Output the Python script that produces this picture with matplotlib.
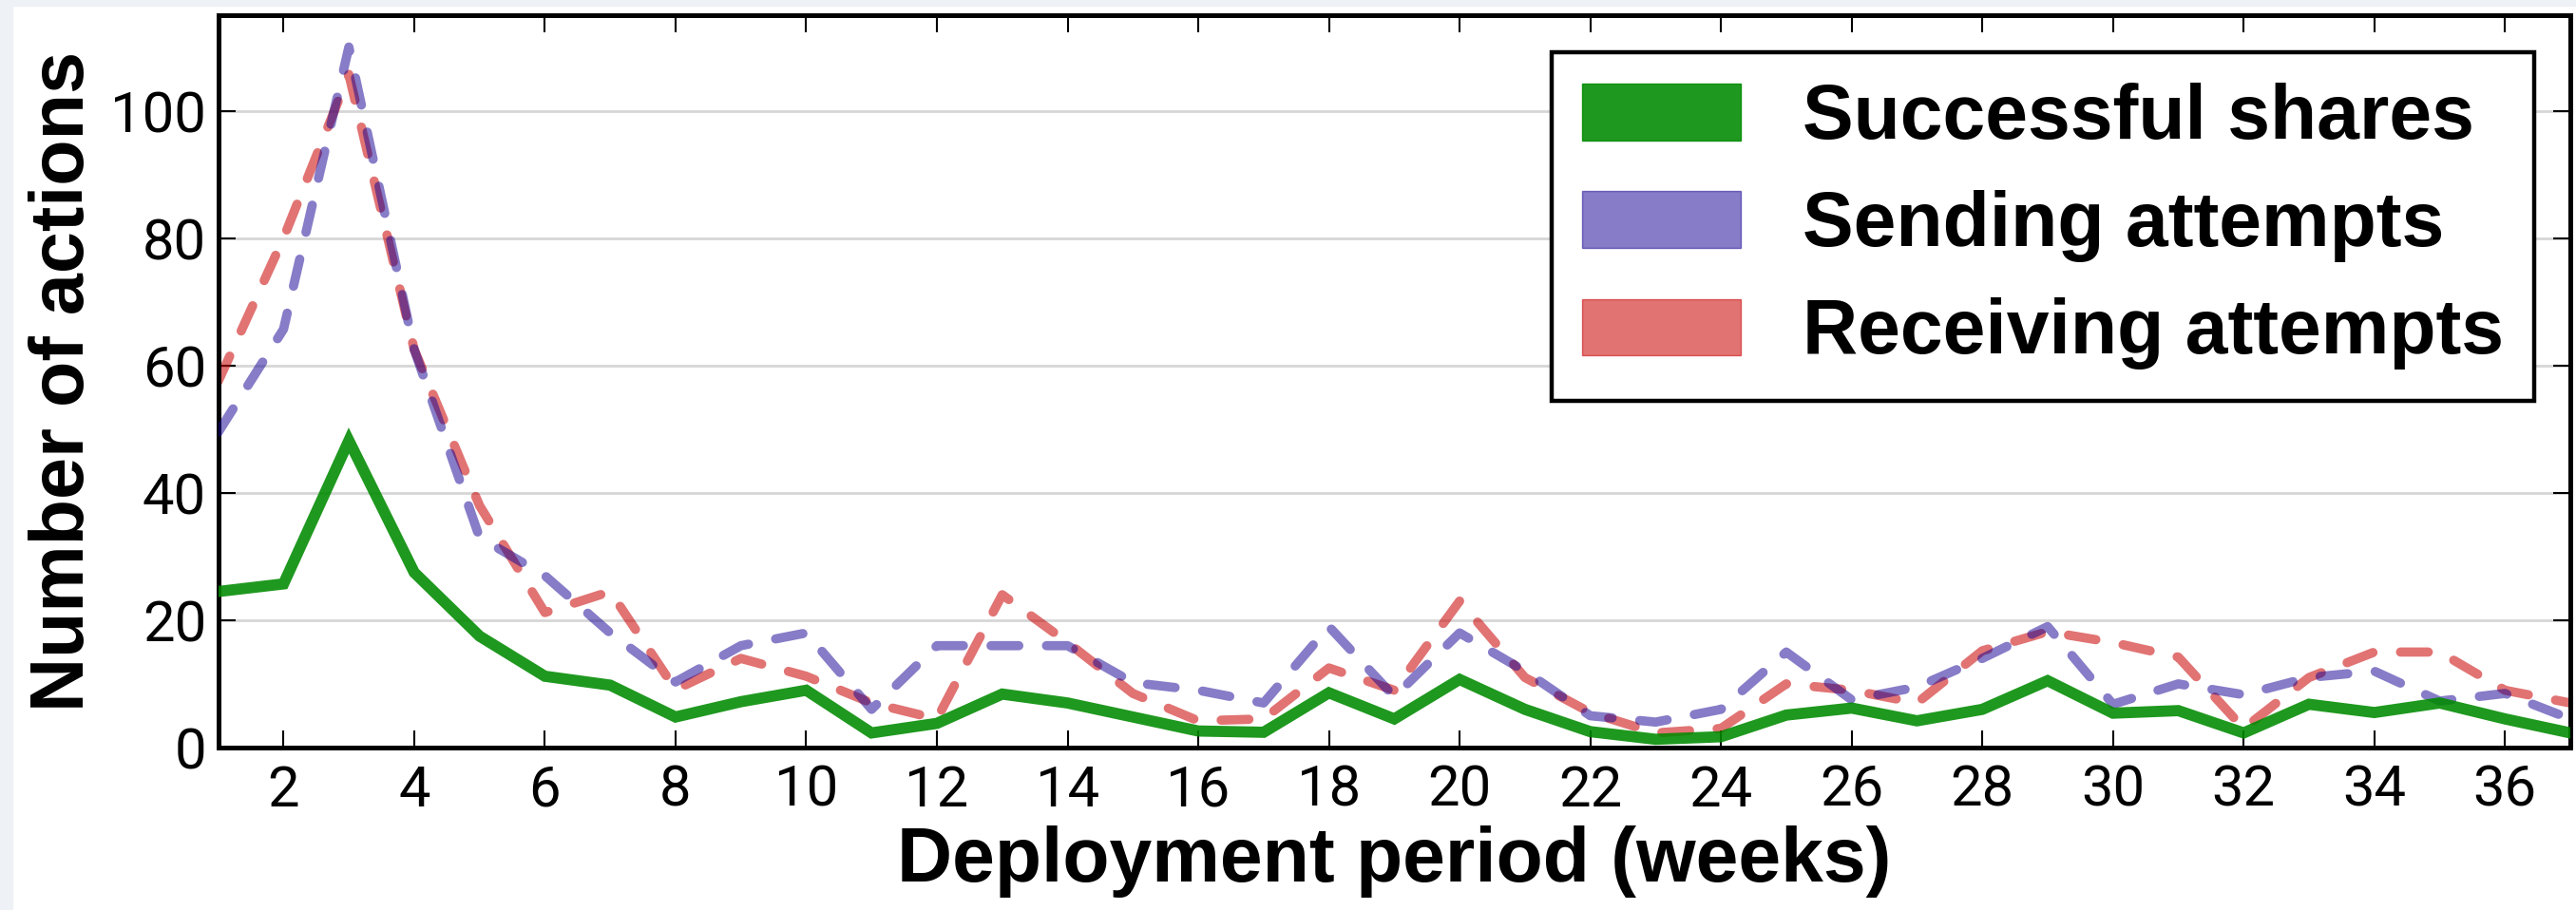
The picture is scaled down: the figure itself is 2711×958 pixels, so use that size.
import matplotlib
matplotlib.use("Agg")
import matplotlib.pyplot as plt
import matplotlib.patches as mpatches

# weekly counts
weeks = list(range(1, 38))
shares = [24.5, 25.7, 48.2, 27.5, 17.5, 11.2, 9.8, 4.8, 7.2, 9.0,
          2.3, 3.8, 8.4, 7.0, 4.8, 2.6, 2.4, 8.6, 4.5,
          10.7, 6.0, 2.5, 1.3, 1.7, 5.1, 6.2, 4.2, 6.0,
          10.5, 5.4, 5.8, 2.3, 6.8, 5.5, 7.0, 4.5, 2.3]
sending = [49.5, 65.7, 110, 62.5, 33, 27, 18, 10.3, 16, 18,
           6, 16, 16, 16, 10.2, 9, 7, 19, 8,
           18, 12, 5, 4, 6, 15, 7.5, 9.5, 14,
           19, 6.8, 10, 8.3, 11, 12, 7.3, 8.5, 4.5]
receiving = [57.5, 80, 105.7, 62.5, 38, 21.2, 24.5, 9.1, 14, 11.2,
             7, 4.5, 24, 16.5, 8.5, 4.2, 4.5, 12.5, 9,
             23, 11, 5.5, 2.3, 3, 10, 9, 7, 15.2,
             18.2, 16.5, 14.2, 3, 11, 15, 15, 9, 7]

labels = ["Successful shares", "Sending attempts", "Receiving attempts"]
x_ticks = list(range(2, 37, 2))
y_ticks = [0, 20, 40, 60, 80, 100]

green = (0.0, 0.54, 0.0)
purple = (0.09, 0.02, 0.58)
red = (0.79, 0.0, 0.0)

bold_font = "Liberation Sans"
light_font = "Roboto"

fig = plt.figure(figsize=(27.11, 9.58), dpi=100)
fig.patch.set_facecolor("white")
# thin grey border of the screenshot
fig.patches.append(mpatches.Rectangle((0, 0), 13 / 2711, 1, transform=fig.transFigure,
                                      color="#eef1f5", zorder=-10))
fig.patches.append(mpatches.Rectangle((0, 1 - 6 / 958), 1, 6 / 958, transform=fig.transFigure,
                                      color="#eef1f5", zorder=-10))

ax = fig.add_axes([0.0847, 0.1785, 0.9131, 0.8048])

ax.plot(weeks, receiving, color=red, alpha=0.55, lw=7, dashes=(3.0, 3.0),
        dash_capstyle="round", zorder=2)
ax.plot(weeks, sending, color=purple, alpha=0.52, lw=7, dashes=(3.0, 3.0),
        dash_capstyle="round", zorder=3)
ax.plot(weeks, shares, color=green, alpha=0.88, lw=8.5, solid_joinstyle="miter", zorder=4)

ax.set_xlim(1, 37)
ax.set_ylim(0, 115)
ax.set_xticks(x_ticks)
ax.set_yticks(y_ticks)
ax.yaxis.grid(True, color="#d6d6d6", lw=2)
ax.set_axisbelow(True)

ax.tick_params(direction="in", length=13, width=1.5, top=True, right=True,
               labelsize=43, pad=9)
ax.tick_params(axis="x", pad=12)
for lab in ax.get_xticklabels() + ax.get_yticklabels():
    lab.set_family(light_font)
    lab.set_weight("normal")
for sp in ax.spines.values():
    sp.set_linewidth(3.6)

ax.set_xlabel("Deployment period (weeks)", fontsize=58, fontweight="bold",
              family=bold_font, labelpad=6)
ax.set_ylabel("Number of actions", fontsize=57, fontweight="bold",
              family=bold_font, labelpad=8)

handles = [mpatches.Patch(color=green, alpha=0.88),
           mpatches.Patch(color=purple, alpha=0.52),
           mpatches.Patch(color=red, alpha=0.55)]
leg = ax.legend(handles, labels, loc="upper right", bbox_to_anchor=(0.9846, 0.9494),
                borderaxespad=0, fancybox=False, framealpha=1, edgecolor="black",
                prop={"family": bold_font, "weight": "bold", "size": 58},
                handlelength=2.07, handleheight=0.76, handletextpad=0.8,
                borderpad=0.4, labelspacing=0.46)
leg.get_frame().set_linewidth(3.2)

fig.savefig("out.png", dpi=100)
